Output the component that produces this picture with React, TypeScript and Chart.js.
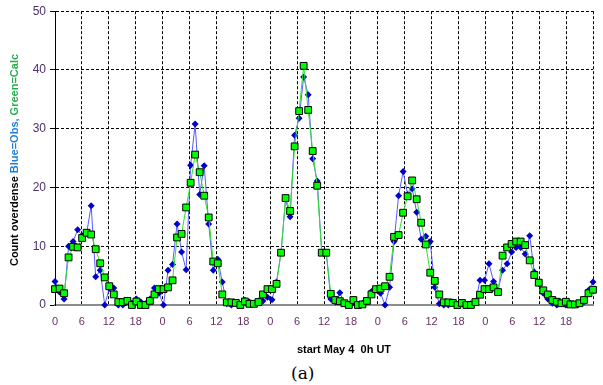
import React, { useEffect, useRef } from 'react';
import { Chart, registerables } from 'chart.js';

Chart.register(...registerables);

// Hourly samples starting May 4 0h UT (120 samples spanning the 5-day axis)
const OBS_DAY1 = [4.0, 2.2, 1.0, 10.0, 10.8, 12.8, 11.8, 12.2, 16.9, 4.8, 5.9, 0.0, 2.8, 2.9, 0.0, 0.0, 0.8, 0.3, 1.0, 0.5, 0.2, 1.0, 2.9, 2.0];
const OBS_DAY2 = [0.0, 5.9, 6.9, 13.8, 9.0, 6.0, 23.8, 30.8, 18.8, 23.7, 13.8, 5.9, 7.8, 3.9, 0.2, 0.0, 0.3, 0.0, 0.8, 0.5, 0.2, 0.7, 0.7, 1.3];
const OBS_DAY3 = [0.9, 3.9, 9.0, 18.0, 15.0, 28.9, 31.8, 38.8, 35.8, 24.9, 21.1, 9.0, 8.9, 1.0, 0.5, 2.1, 0.3, 0.0, 0.4, 0.0, 0.3, 0.8, 2.3, 2.5];
const OBS_DAY4 = [2.0, 0.0, 3.0, 10.8, 18.6, 22.7, 18.8, 19.8, 15.8, 11.2, 11.7, 10.8, 3.0, 0.2, 0.0, 0.0, 0.5, 0.0, 0.3, 0.0, 0.2, 0.5, 4.2, 4.2];
const OBS_DAY5 = [7.0, 4.0, 2.5, 5.9, 7.0, 9.0, 9.8, 9.8, 8.7, 11.8, 5.6, 3.65, 2.0, 1.0, 0.3, 0.0, 0.3, 0.0, 0.3, 0.0, 0.2, 0.5, 2.5, 3.9];

const CALC_DAY1 = [2.7, 2.8, 2.0, 8.1, 9.9, 9.8, 11.4, 12.3, 12.0, 9.5, 7.1, 4.7, 3.2, 1.8, 0.5, 0.5, 0.7, 0.0, 0.6, 0.0, 0.0, 0.7, 1.8, 2.7];
const CALC_DAY2 = [2.7, 3.0, 4.2, 11.5, 12.1, 16.6, 20.8, 25.6, 22.6, 18.6, 14.9, 7.4, 7.1, 1.8, 0.45, 0.45, 0.35, 0.0, 0.6, 0.2, 0.2, 0.5, 1.8, 2.7];
const CALC_DAY3 = [2.7, 3.6, 8.9, 18.2, 16.0, 27.0, 33.0, 40.7, 33.2, 26.2, 20.3, 8.9, 8.9, 1.9, 0.85, 0.65, 0.3, 0.0, 0.85, 0.0, 0.1, 0.7, 1.8, 2.7];
const CALC_DAY4 = [2.8, 3.2, 4.8, 11.6, 11.9, 15.7, 18.5, 21.2, 18.0, 14.0, 10.3, 5.5, 4.1, 1.8, 0.45, 0.45, 0.35, 0.0, 0.35, 0.0, 0.0, 0.5, 1.75, 2.7];
const CALC_DAY5 = [2.7, 3.0, 2.2, 8.4, 9.8, 10.4, 10.8, 10.8, 10.2, 7.6, 5.1, 3.8, 2.5, 1.8, 0.85, 0.55, 0.3, 0.55, 0.1, 0.1, 0.3, 0.85, 2.0, 2.6];

const OBS = [...OBS_DAY1, ...OBS_DAY2, ...OBS_DAY3, ...OBS_DAY4, ...OBS_DAY5];
const CALC = [...CALC_DAY1, ...CALC_DAY2, ...CALC_DAY3, ...CALC_DAY4, ...CALC_DAY5];

const X_MIN = 0;
const X_MAX = 120;
const X_STEP = 6;
const Y_MIN = 0;
const Y_MAX = 50;
const Y_STEP = 10;

const X_TITLE = 'start May 4  0h UT';
const Y_TITLE_PARTS: [string, string][] = [
  ['Count overdense ', '#000000'],
  ['Blue=Obs, ', '#1f7fd6'],
  ['Green=Calc', '#1fae4a'],
];

const FONT = '"Liberation Sans", Arial, sans-serif';

const titlesPlugin = {
  id: 'titlesPlugin',
  afterDraw(chart: any) {
    const ctx = chart.ctx as CanvasRenderingContext2D;
    const area = chart.chartArea;
    ctx.save();
    ctx.font = `bold 11px ${FONT}`;
    ctx.fillStyle = '#000';
    ctx.textAlign = 'center';
    ctx.textBaseline = 'middle';
    ctx.fillText(X_TITLE, (area.left + area.right) / 2 + 20, 350);
    ctx.translate(15, 160);
    ctx.rotate(-Math.PI / 2);
    ctx.textAlign = 'left';
    let total = 0;
    for (const [t] of Y_TITLE_PARTS) total += ctx.measureText(t).width;
    let x = -total / 2;
    for (const [t, c] of Y_TITLE_PARTS) {
      ctx.fillStyle = c;
      ctx.fillText(t, x, 0);
      x += ctx.measureText(t).width;
    }
    ctx.restore();
  },
};

export default function App() {
  const ref = useRef<HTMLCanvasElement | null>(null);

  useEffect(() => {
    document.body.style.margin = '0';
    const canvas = ref.current;
    if (!canvas) return;
    const n = OBS.length;
    const span = (X_MAX - X_MIN) / (n - 1);
    const obsPts = OBS.map((v, i) => ({ x: X_MIN + i * span, y: v }));
    const calcPts = CALC.map((v, i) => ({ x: X_MIN + i * span, y: v }));
    const chart = new Chart(canvas, {
      type: 'line',
      data: {
        datasets: [
          {
            label: 'Calc',
            data: calcPts,
            borderColor: '#2ee02e',
            borderWidth: 1,
            pointStyle: 'rect',
            pointRadius: 4.8,
            pointBackgroundColor: '#00ff00',
            pointBorderColor: '#000000',
            pointBorderWidth: 1,
            tension: 0,
            order: 0,
            clip: false,
          },
          {
            label: 'Obs',
            data: obsPts,
            borderColor: '#5a5aff',
            borderWidth: 1,
            pointStyle: 'rectRot',
            pointRadius: 3.5,
            pointBackgroundColor: '#0000cc',
            pointBorderColor: '#0000cc',
            pointBorderWidth: 0,
            tension: 0,
            order: 1,
            clip: false,
          },
        ] as any,
      },
      options: {
        animation: false,
        responsive: false,
        maintainAspectRatio: false,
        layout: { padding: { left: 0, right: 0, top: 11, bottom: 0 } },
        plugins: {
          legend: { display: false },
          tooltip: { enabled: false },
        },
        scales: {
          x: {
            type: 'linear',
            min: X_MIN,
            max: X_MAX,
            ticks: {
              stepSize: X_STEP,
              autoSkip: false,
              maxRotation: 0,
              color: '#6a2f66',
              font: { size: 11, family: FONT },
              padding: 10,
              callback: (v: any) => (Number(v) >= X_MAX ? '' : String(Number(v) % 24)),
            },
            grid: {
              color: '#000000',
              lineWidth: 1,
              drawTicks: false,
            },
            border: { color: '#8c8c8c', width: 2, dash: [3, 2] },
            afterFit(scale: any) {
              scale.height = 50;
            },
          },
          y: {
            min: Y_MIN,
            max: Y_MAX,
            ticks: {
              stepSize: Y_STEP,
              color: '#4a2f6a',
              font: { size: 12, family: FONT },
              padding: 4,
            },
            grid: {
              color: '#000000',
              lineWidth: 1,
              drawTicks: true,
              tickLength: 5,
              tickColor: '#000000',
            },
            border: { color: '#000000', width: 1, dash: [3, 2] },
            afterFit(scale: any) {
              scale.width = 55;
            },
          },
        } as any,
      },
      plugins: [titlesPlugin],
    });
    return () => chart.destroy();
  }, []);

  return (
    <div style={{ position: 'absolute', left: 0, top: 0, width: 603, height: 385, background: '#ffffff' }}>
      <canvas ref={ref} width={603} height={355} style={{ position: 'absolute', left: 0, top: 0 }} />
      <div
        style={{
          position: 'absolute',
          left: 291,
          top: 362,
          fontFamily: '"DejaVu Serif", "Liberation Serif", serif',
          fontSize: 17,
          lineHeight: '22px',
          color: '#000',
        }}
      >
        (a)
      </div>
    </div>
  );
}
